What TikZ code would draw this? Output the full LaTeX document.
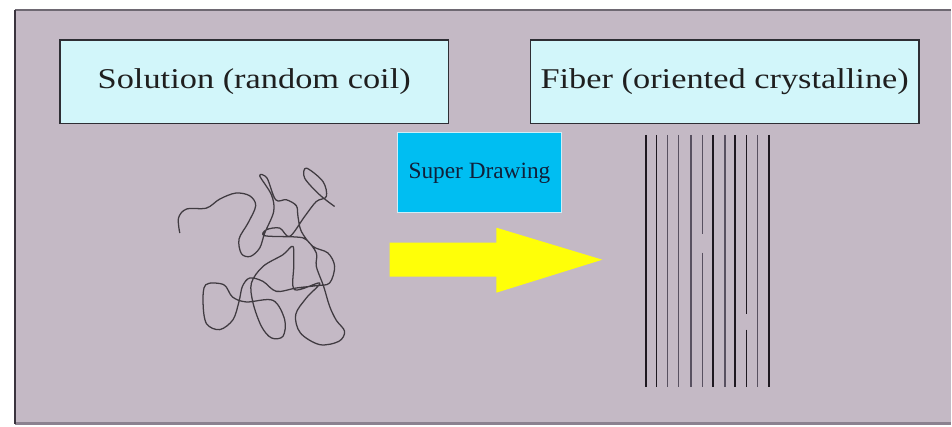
\documentclass[tikz,border=0pt]{standalone}
\usepackage{fontspec}
\setmainfont{Liberation Serif}
\newfontfamily\labelfont[FakeStretch=1.2]{Liberation Serif}
\usepackage{tikz}
\usetikzlibrary{positioning}
\definecolor{panelbg}{HTML}{C4B9C5}
\definecolor{panelrim}{HTML}{6E6872}
\definecolor{paneledge}{HTML}{3A343E}
\definecolor{panelfoot}{HTML}{8C8290}
\definecolor{stagefill}{HTML}{D2F6FA}
\definecolor{stageline}{HTML}{2E2E34}
\definecolor{procfill}{HTML}{00BEF2}
\definecolor{procline}{HTML}{CDEFF8}
\definecolor{proctext}{HTML}{10203A}
\definecolor{flowyellow}{HTML}{FFFF08}
\definecolor{chaindark}{HTML}{1E1820}
\definecolor{chaingray}{HTML}{585060}
\tikzset{
 stagebox/.style={rectangle, draw=stageline, fill=stagefill, line width=0.9pt,
 minimum width=291.75pt, minimum height=63pt, inner sep=0pt,
 font=\labelfont\fontsize{21.5}{24}\selectfont, text=black!88},
 procbox/.style={rectangle, draw=procline, fill=procfill, line width=0.6pt,
 minimum width=123pt, minimum height=60pt, inner sep=0pt,
 font=\fontsize{17.5}{20}\selectfont, text=proctext},
 coil/.style={draw=chaindark!85, line width=0.95pt, line join=round},
 chain/.style={line width=1.3pt},
}

\begin{document}
\begin{tikzpicture}[x=0.75pt, y=-0.75pt]
% page and panel
\fill[white] (0,0) rectangle (952,427);
\fill[panelbg] (15,10) rectangle (952,424);
\draw[panelrim, line width=1.1pt] (15,10) -- (952,10);
\draw[panelfoot, line width=1.6pt] (15,424) -- (952,424);
\draw[paneledge, line width=1.1pt] (15,10) -- (15,424);

% stage labels
\node[stagebox] (solution) at (254.5,82) {Solution (random coil)};
\node[stagebox] (fiber) at (725.5,82) {Fiber (oriented crystalline)};

% process step between the two states
\node[procbox] (drawing) at (480,173) {Super Drawing};
\fill[flowyellow] (390,243) -- (497,243) -- (497,228) -- (603,260)
  -- (497,293) -- (497,277) -- (390,277) -- cycle;

% random coil in solution
\draw[coil] plot[smooth, tension=0.55] coordinates {
 (180,233.3) (178.7,218.3) (186.7,209.3) (206.7,208.3) (220,199.3)
 (236,193.3) (250,196) (256,206) (248.3,223.3) (239.3,239.3)
 (241.7,254) (250.7,256.7) (260,248.3) (265,233.3) (274,211.7)
 (271.7,195) (260,176) (267.3,178.3) (276,200) (286.7,200)
 (296.7,206) (298.3,216.7) (301.7,231.7) (313.3,246.7) (328.3,253.3)
 (335,266.7) (330,283.3) (316.7,286) (296.7,288.3) (276.7,291.7)
 (263.3,281.7) (250,278.3) (242.7,286.7) (239.3,301.7) (233.3,320)
 (220,330) (206.7,324) (203.3,303.3) (206,285) (224,285)
 (232.7,297.3) (246.7,302.3) (273.3,300.7) (285,320) (283.3,336.7)
 (271.7,338.3) (261.7,326.7) (253.3,303.3) (251.7,283.3) (263.3,266.7)
 (283.3,255) (293.3,246.7) (294,266.7) (295,290) (320,283.3)
 (306.7,298.3) (296,315) (300.7,333.3) (320,345) (339.3,341.7)
 (345,331.7) (336.7,320.7) (330,306.7) (324,286.7) (316.7,266.7)
 (316.7,253.3) (306.7,240) (296.7,237.3) (265,236) (266.7,230)
 (280,228.3) (290,236.7) (305,216.7) (316.7,201.7) (326.7,196.7)
 (323.3,181.7) (306.7,168.3) (305,178.3) (320,195) (335,206.7)};

% oriented chains in the fiber
\foreach \x/\c in {646.7/chaindark, 657.3/chaindark, 668.3/chaingray,
  679.3/chaingray, 691.7/chaingray, 714/chaindark, 725.7/chaingray,
  736/chaindark, 758.3/chaingray, 770/chaindark}
  \draw[chain, \c] (\x,135) -- (\x,387);
% chains with a break
\draw[chain, chaingray] (703.3,135) -- (703.3,234) (703.3,253) -- (703.3,387);
\draw[chain, chaindark] (747.3,135) -- (747.3,314) (747.3,330) -- (747.3,387);
\end{tikzpicture}
\end{document}
